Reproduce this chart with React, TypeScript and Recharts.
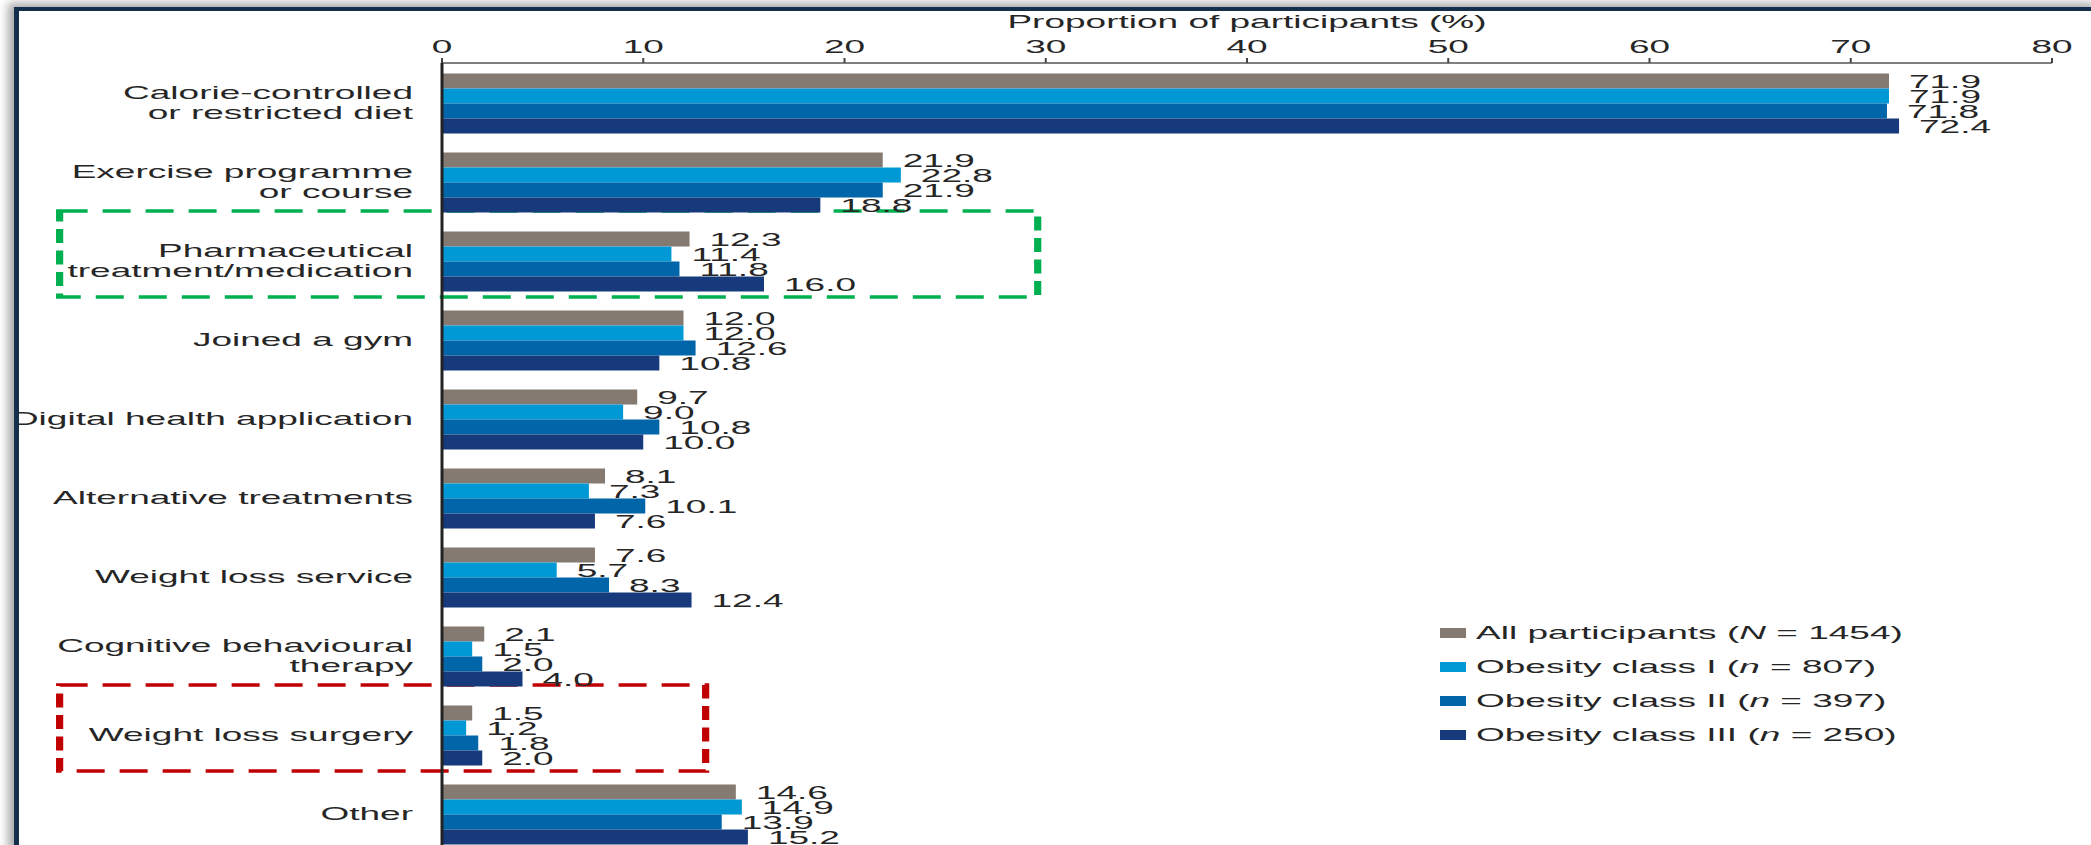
import { BarChart, Bar, XAxis, YAxis, Legend, LabelList, ReferenceArea } from "recharts";

// the source figure is stretched sideways, so the chart is drawn at half width and scaled up
const STRETCH = 2;
const PAGE_W = 2091;
const PAGE_H = 845;
const FONT = "'Liberation Sans', Arial, sans-serif";
const TEXT = "#262626";

const categories = [
  "Calorie-controlled\nor restricted diet",
  "Exercise programme\nor course",
  "Pharmaceutical\ntreatment/medication",
  "Joined a gym",
  "Digital health application",
  "Alternative treatments",
  "Weight loss service",
  "Cognitive behavioural\ntherapy",
  "Weight loss surgery",
  "Other",
];

const allParticipants = [71.9, 21.9, 12.3, 12.0, 9.7, 8.1, 7.6, 2.1, 1.5, 14.6];
const obesityI = [71.9, 22.8, 11.4, 12.0, 9.0, 7.3, 5.7, 1.5, 1.2, 14.9];
const obesityII = [71.8, 21.9, 11.8, 12.6, 10.8, 10.1, 8.3, 2.0, 1.8, 13.9];
const obesityIII = [72.4, 18.8, 16.0, 10.8, 10.0, 7.6, 12.4, 4.0, 2.0, 15.2];

const xTicks = [0, 10, 20, 30, 40, 50, 60, 70, 80];

const series = [
  { key: "all", name: "All participants", sym: "N", n: 1454, color: "#857a71", values: allParticipants },
  { key: "c1", name: "Obesity class I", sym: "n", n: 807, color: "#0099d5", values: obesityI },
  { key: "c2", name: "Obesity class II", sym: "n", n: 397, color: "#0065a9", values: obesityII },
  { key: "c3", name: "Obesity class III", sym: "n", n: 250, color: "#173a7d", values: obesityIII },
];

// dashed highlight boxes drawn over the figure
const highlights = [
  { category: categories[2], from: -19, to: 29.6, color: "#00b050" },
  { category: categories[8], from: -19, to: 13.1, color: "#c00000" },
];

const data = categories.map((category, i) => {
  const row: Record<string, string | number> = { category };
  series.forEach((s) => {
    row[s.key] = s.values[i];
  });
  return row;
});

function CategoryTick({ x, y, payload }: any) {
  const lines = String(payload.value).split("\n");
  const start = -((lines.length - 1) * 20) / 2;
  return (
    <text x={x} y={y} textAnchor="end" fill={TEXT} fontSize={18.5} fontFamily={FONT}>
      {lines.map((line, i) => (
        <tspan key={i} x={x} dy={i === 0 ? start + 6.5 : 20}>
          {line}
        </tspan>
      ))}
    </text>
  );
}

function LegendBox() {
  return (
    <div style={{ fontFamily: FONT, fontSize: 18.5, color: TEXT }}>
      {series.map((s) => (
        <div key={s.key} style={{ display: "flex", alignItems: "center", height: 34, whiteSpace: "nowrap" }}>
          <span style={{ width: 13, height: 10, background: s.color, marginRight: 5, flex: "none" }} />
          <span>
            {s.name} (<i>{s.sym}</i> = {s.n})
          </span>
        </div>
      ))}
    </div>
  );
}

export default function App() {
  return (
    <div style={{ position: "absolute", left: 0, top: 0, width: PAGE_W, height: PAGE_H, overflow: "hidden", background: "#fff" }}>
      <div style={{ width: PAGE_W / STRETCH, transform: `scaleX(${STRETCH})`, transformOrigin: "0 0" }}>
        <BarChart
          width={PAGE_W / STRETCH}
          height={853}
          data={data}
          layout="vertical"
          margin={{ top: 0, right: 19.5, bottom: 0, left: 0 }}
          barCategoryGap={10.5}
          barGap={0}
        >
          <XAxis
            type="number"
            orientation="top"
            domain={[0, 80]}
            ticks={xTicks}
            height={63}
            tick={{ fill: TEXT, fontSize: 18.5, fontFamily: FONT }}
            tickSize={5}
            tickMargin={4.5}
            tickLine={{ stroke: "#444", strokeWidth: 1 }}
            axisLine={{ stroke: "#555", strokeWidth: 1.5 }}
            label={{
              value: "Proportion of participants (%)",
              position: "insideTop",
              offset: 15,
              fill: TEXT,
              fontSize: 18.5,
              fontFamily: FONT,
            }}
          />
          <YAxis
            type="category"
            dataKey="category"
            width={221}
            interval={0}
            tickLine={false}
            tickSize={0}
            tickMargin={14.5}
            axisLine={{ stroke: "#222", strokeWidth: 1.5 }}
            tick={<CategoryTick />}
          />
          {series.map((s) => (
            <Bar key={s.key} dataKey={s.key} name={s.name} fill={s.color} isAnimationActive={false}>
              <LabelList
                dataKey={s.key}
                position="right"
                offset={10}
                formatter={(v: any) => Number(v).toFixed(1)}
                fill={TEXT}
                fontSize={18.5}
                fontFamily={FONT}
              />
            </Bar>
          ))}
          {highlights.map((h) => (
            <ReferenceArea
              key={h.category}
              y1={h.category}
              y2={h.category}
              x1={h.from}
              x2={h.to}
              ifOverflow="visible"
              shape={(p: any) => (
                <rect
                  x={p.x}
                  y={p.y - 10}
                  width={p.width}
                  height={p.height + 7}
                  fill="none"
                  stroke={h.color}
                  strokeWidth={3.6}
                  strokeDasharray="14 7.5"
                />
              )}
            />
          ))}
          <Legend
            layout="vertical"
            align="center"
            verticalAlign="middle"
            wrapperStyle={{ left: 720, top: 616, width: 320, height: 140 }}
            content={() => <LegendBox />}
          />
        </BarChart>
      </div>
      {/* slide frame around the figure */}
      <div
        style={{
          position: "absolute",
          left: 14,
          top: 7,
          right: -10,
          bottom: -10,
          borderLeft: "5px solid #142f4c",
          borderTop: "4px solid #142f4c",
          boxShadow: "-6px -4px 9px rgba(0,0,0,0.35)",
          pointerEvents: "none",
        }}
      />
    </div>
  );
}
